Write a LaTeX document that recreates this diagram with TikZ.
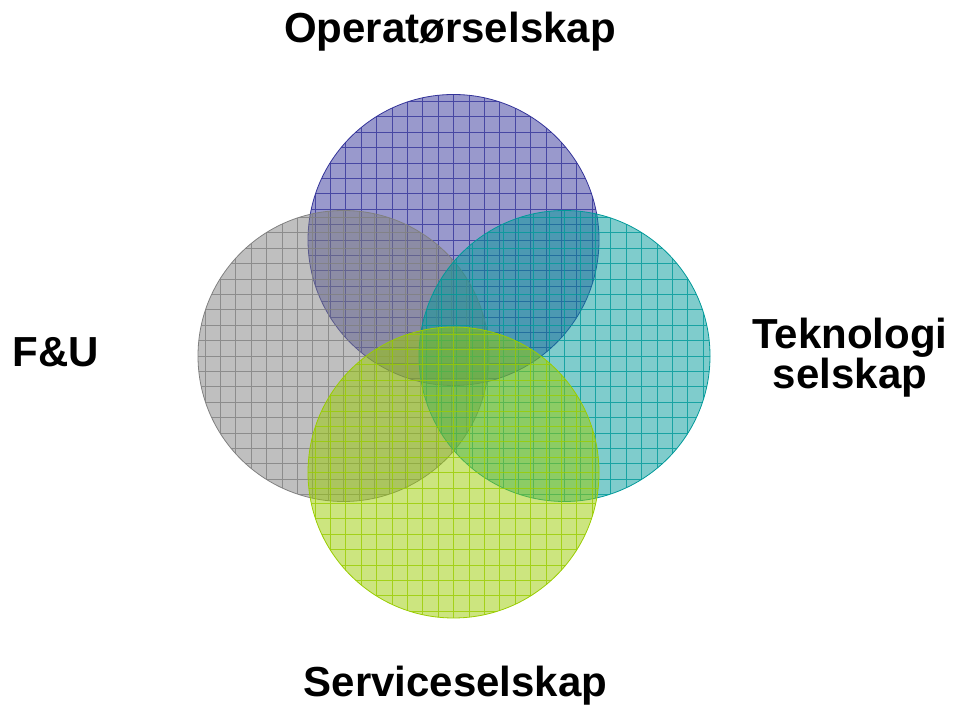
\documentclass[tikz,border=0pt]{standalone}
\usepackage{fontspec}
\setmainfont{Liberation Sans}
\usetikzlibrary{positioning}
\definecolor{opblue}{HTML}{333399}
\definecolor{fugray}{HTML}{808080}
\definecolor{tekteal}{HTML}{009999}
\definecolor{servgreen}{HTML}{99CC00}

\begin{document}
\begin{tikzpicture}[x=1pt, y=1pt,
  venn/.style={circle, draw=#1, fill=#1, fill opacity=0.5, minimum size=291pt, inner sep=0pt, line width=0.8pt,
    path picture={\draw[#1, draw opacity=0.8, line width=0.7pt, step=15.4pt, xshift=-7pt, yshift=7pt] (-170,-170) grid (170,170);}},
  lbl/.style={font=\fontsize{42}{39}\selectfont\bfseries, inner sep=0pt}]
\useasboundingbox (0,0) rectangle (957,708);
% circles
\node[venn=opblue] (o) at (453.5,468) {};
\node[venn=fugray] (f) at (343.5,352) {};
\node[venn=tekteal] (t) at (564.5,352) {};
\node[venn=servgreen] (s) at (453.5,235.5) {};
% labels
\node[lbl, anchor=base] (ol) at (450,665) {Operatørselskap};
\node[lbl, anchor=base] (sl) at (455.5,11) {Serviceselskap};
\node[lbl, anchor=base] (fl) at (56,341) {F\&U};
\node[lbl, anchor=north, align=center] (tl) at (850,390) {Teknologi\\selskap};
\end{tikzpicture}
\end{document}
